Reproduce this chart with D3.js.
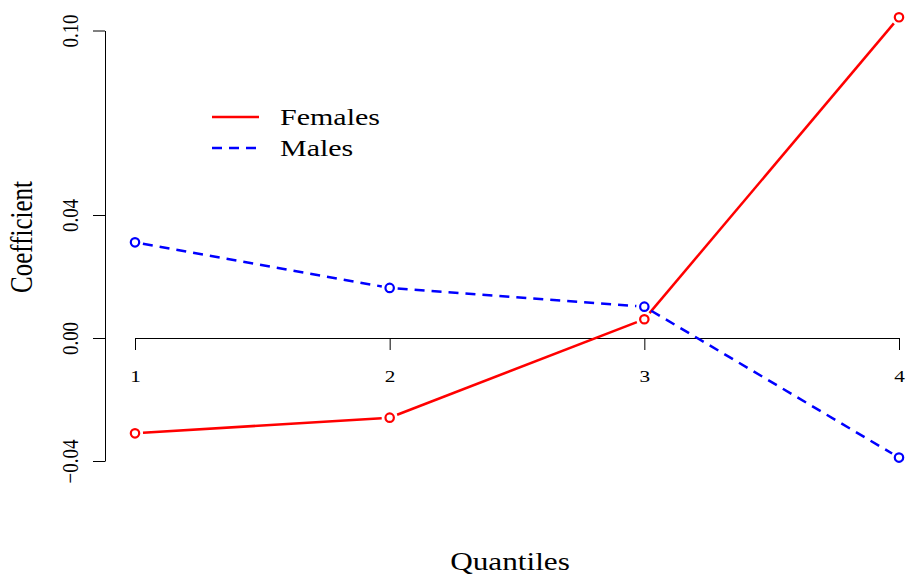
<!DOCTYPE html>
<html>
<head>
<meta charset="utf-8">
<script src="https://cdn.jsdelivr.net/npm/d3@7"></script>
<style>
  body { margin: 0; background: #fff; }
  svg text { font-family: "Liberation Serif", "Times New Roman", serif; fill: #000; }
</style>
</head>
<body>
<svg id="chart" width="907" height="574"></svg>
<script>
// data
const quantiles = [1, 2, 3, 4];
const females = [-0.0310, -0.0259, 0.0061, 0.1043];
const males = [0.0311, 0.0163, 0.0102, -0.0389];
const yTicks = [-0.04, 0.00, 0.04, 0.10];

// the original picture is stretched sideways, so text is too
const SX = 1.25;

const svg = d3.select('#chart');

const x = d3.scaleLinear().domain([1, 4]).range([135, 899]);
const y = d3.scaleLinear().domain([-0.04, 0.10]).range([461, 30.5]);

// y axis (left)
const yAxis = svg.append('g')
  .attr('transform', 'translate(105,0)')
  .call(d3.axisLeft(y).tickValues(yTicks).tickSize(12).tickSizeOuter(0));
yAxis.select('.domain').attr('stroke', '#000');
yAxis.selectAll('.tick line').attr('stroke', '#000');
yAxis.selectAll('.tick text')
  .text(d => d3.format('.2f')(d).replace('-', '\u2212'))
  .attr('font-size', 19)
  .attr('text-anchor', 'middle')
  .attr('x', 0)
  .attr('y', 0)
  .attr('dy', '0.35em')
  .attr('transform', `translate(-35,0) scale(${SX},1) rotate(-90)`);

// x axis at y = 0
const xAxis = svg.append('g')
  .attr('transform', `translate(0,${y(0)})`)
  .call(d3.axisBottom(x).tickValues(quantiles).tickFormat(d3.format('d')).tickSize(12).tickSizeOuter(0));
xAxis.select('.domain').attr('stroke', '#000');
xAxis.selectAll('.tick line').attr('stroke', '#000');
xAxis.selectAll('.tick text')
  .attr('font-size', 17)
  .attr('y', 0)
  .attr('dy', 0)
  .attr('transform', `translate(0,44) scale(${SX},1)`);

// lines with gaps round the points (type = "b")
function drawSeries(vals, color, dash) {
  const pts = quantiles.map((q, i) => [x(q), y(vals[i])]);
  const gap = 8;
  const segs = d3.pairs(pts).map(([a, b]) => {
    const dx = b[0] - a[0], dy = b[1] - a[1];
    const len = Math.hypot(dx, dy);
    const ux = dx / len, uy = dy / len;
    return [[a[0] + ux * gap, a[1] + uy * gap], [b[0] - ux * gap, b[1] - uy * gap]];
  });
  svg.append('g').selectAll('line')
    .data(segs)
    .enter().append('line')
    .attr('x1', d => d[0][0]).attr('y1', d => d[0][1])
    .attr('x2', d => d[1][0]).attr('y2', d => d[1][1])
    .attr('stroke', color)
    .attr('stroke-width', 2.5)
    .attr('stroke-dasharray', dash);
  svg.append('g').selectAll('circle')
    .data(pts)
    .enter().append('circle')
    .attr('cx', d => d[0]).attr('cy', d => d[1])
    .attr('r', 4.2)
    .attr('fill', 'none')
    .attr('stroke', color)
    .attr('stroke-width', 2.2);
}
drawSeries(females, '#ff0000', null);
drawSeries(males, '#0000ff', '10,7');

// legend
const legend = [
  { name: 'Females', color: '#ff0000', dash: null },
  { name: 'Males', color: '#0000ff', dash: '10,7' }
];
const lg = svg.append('g').selectAll('g')
  .data(legend)
  .enter().append('g')
  .attr('transform', (d, i) => `translate(212,${117 + i * 31})`);
lg.append('line')
  .attr('x1', 0).attr('x2', 47)
  .attr('stroke', d => d.color)
  .attr('stroke-width', 2.5)
  .attr('stroke-dasharray', d => d.dash);
lg.append('text')
  .attr('transform', `translate(68,0) scale(${SX},1)`)
  .attr('dy', '0.35em')
  .attr('font-size', 24)
  .text(d => d.name);

// axis titles
svg.append('text')
  .attr('transform', `translate(510,570) scale(${SX},1)`)
  .attr('text-anchor', 'middle')
  .attr('font-size', 25)
  .text('Quantiles');
svg.append('text')
  .attr('transform', `translate(32,237) scale(${SX},1) rotate(-90)`)
  .attr('text-anchor', 'middle')
  .attr('font-size', 25)
  .text('Coefficient');
</script>
</body>
</html>
